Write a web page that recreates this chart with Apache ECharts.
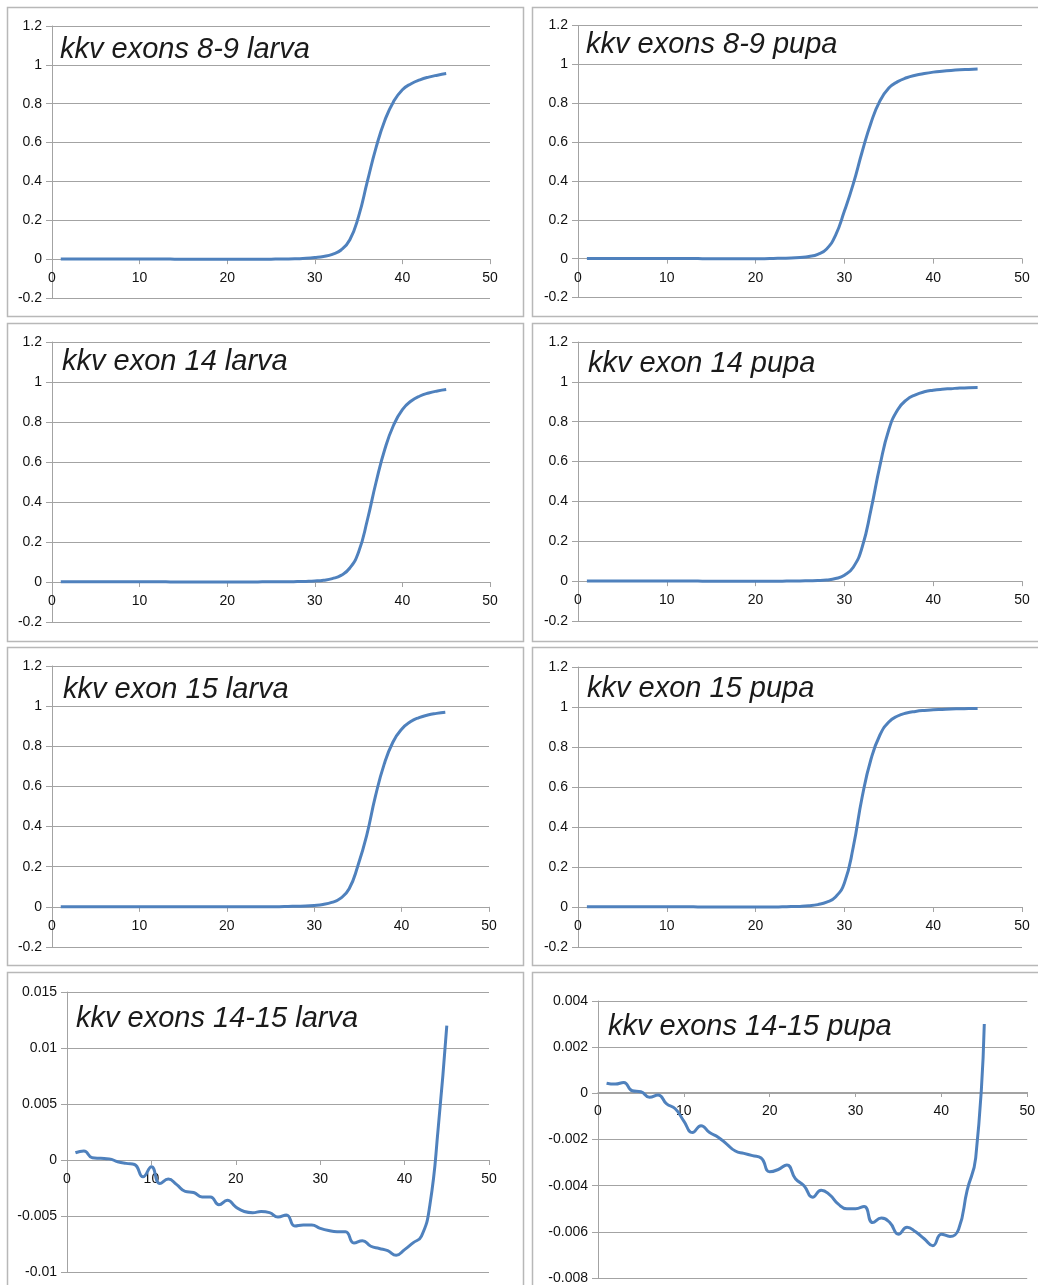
<!DOCTYPE html>
<html>
<head>
<meta charset="utf-8">
<script src="https://cdn.jsdelivr.net/npm/echarts@6/dist/echarts.min.js"></script>
<style>
html,body{margin:0;padding:0;background:#fff;}
#chart{width:1038px;height:1285px;}
</style>
</head>
<body>
<div id="chart"></div>
<script>
// Cycle numbers
var cycles = [];
for (var c = 1; c <= 45; c++) cycles.push(c);

var titles = [
  'kkv exons 8-9 larva', 'kkv exons 8-9 pupa',
  'kkv exon 14 larva', 'kkv exon 14 pupa',
  'kkv exon 15 larva', 'kkv exon 15 pupa',
  'kkv exons 14-15 larva', 'kkv exons 14-15 pupa'
];

var exons89Larva = [
  0.001,0.001,0.001,0.001,0.001,0.001,0.001,0.001,0.001,0.001,
  0.001,0.001,0.001,0.000,0.000,0.000,0.000,0.000,0.000,0.000,
  0.000,0.000,0.000,0.000,0.000,0.001,0.001,0.002,0.004,0.008,
  0.014,0.025,0.047,0.100,0.220,0.400,0.575,0.715,0.812,0.872,
  0.903,0.923,0.937,0.947,0.955
];
var exons89Pupa = [
  0.001,0.001,0.001,0.001,0.001,0.001,0.001,0.001,0.001,0.001,
  0.001,0.001,0.001,0.000,0.000,0.000,0.000,0.000,0.000,0.000,
  0.000,0.001,0.002,0.003,0.006,0.011,0.022,0.050,0.120,0.245,
  0.385,0.550,0.700,0.812,0.878,0.911,0.931,0.944,0.953,0.960,
  0.965,0.969,0.972,0.974,0.976
];
var exon14Larva = [
  0.001,0.001,0.001,0.001,0.001,0.001,0.001,0.001,0.001,0.001,
  0.001,0.001,0.001,0.000,0.000,0.000,0.000,0.000,0.000,0.000,
  0.000,0.000,0.000,0.001,0.001,0.001,0.001,0.002,0.003,0.005,
  0.009,0.017,0.033,0.070,0.150,0.310,0.500,0.665,0.785,0.862,
  0.905,0.930,0.945,0.955,0.962
];
var exon14Pupa = [
  0.001,0.001,0.001,0.001,0.001,0.001,0.001,0.001,0.001,0.001,
  0.001,0.001,0.001,0.000,0.000,0.000,0.000,0.000,0.000,0.000,
  0.000,0.000,0.000,0.001,0.001,0.002,0.003,0.006,0.013,0.030,
  0.070,0.170,0.360,0.580,0.760,0.860,0.910,0.935,0.950,0.958,
  0.963,0.966,0.969,0.971,0.972
];
var exon15Larva = [
  0.001,0.001,0.001,0.001,0.001,0.001,0.001,0.001,0.001,0.001,
  0.001,0.001,0.001,0.000,0.000,0.000,0.000,0.000,0.000,0.000,
  0.000,0.000,0.000,0.001,0.001,0.001,0.002,0.003,0.004,0.007,
  0.012,0.022,0.042,0.090,0.205,0.355,0.550,0.710,0.820,0.885,
  0.922,0.943,0.956,0.964,0.970
];
var exon15Pupa = [
  0.001,0.001,0.001,0.001,0.001,0.001,0.001,0.001,0.001,0.001,
  0.001,0.001,0.001,0.000,0.000,0.000,0.000,0.000,0.000,0.000,
  0.000,0.000,0.001,0.002,0.003,0.006,0.012,0.024,0.050,0.120,
  0.300,0.550,0.740,0.860,0.925,0.955,0.970,0.978,0.983,0.986,
  0.988,0.990,0.991,0.992,0.993
];
var exons1415Larva = [
  0.00065,0.0008,0.0002,0.00015,0.0001,-0.00015,-0.0003,-0.0004,-0.0015,-0.0006,
  -0.0021,-0.0017,-0.0022,-0.0028,-0.0029,-0.0033,-0.0033,-0.0040,-0.0036,-0.0042,
  -0.0046,-0.0047,-0.0046,-0.0047,-0.0051,-0.0049,-0.0059,-0.0058,-0.0058,-0.0061,
  -0.0063,-0.0064,-0.0064,-0.0074,-0.0072,-0.0077,-0.0079,-0.0081,-0.0085,-0.0080,
  -0.0074,-0.0068,-0.0040,0.0030,0.0120
];
var exons1415Pupa = [
  0.00044,0.0004,0.00047,0.00011,0.00007,-0.00017,-0.00007,-0.00046,-0.00067,-0.0012,
  -0.0017,-0.0014,-0.0017,-0.0019,-0.0022,-0.0025,-0.0026,-0.0027,-0.0028,-0.0034,
  -0.0033,-0.0031,-0.0037,-0.0040,-0.0045,-0.0042,-0.0044,-0.0048,-0.0050,-0.0050,
  -0.0049,-0.0056,-0.0054,-0.0056,-0.0061,-0.0058,-0.0060,-0.0063,-0.0066,-0.0061,
  -0.0062,-0.0059,-0.0042,-0.0028,0.0030
];

var seriesValues = [exons89Larva, exons89Pupa, exon14Larva, exon14Pupa,
                    exon15Larva, exon15Pupa, exons1415Larva, exons1415Pupa];

var xTicks = [0, 10, 20, 30, 40, 50];
var yRanges = [
  [-0.2, 1.2, 0.2], [-0.2, 1.2, 0.2],
  [-0.2, 1.2, 0.2], [-0.2, 1.2, 0.2],
  [-0.2, 1.2, 0.2], [-0.2, 1.2, 0.2],
  [-0.01, 0.015, 0.005], [-0.008, 0.004, 0.002]
];

// Layout (pixels)
var grids = [
  {left: 52, top: 26, width: 438, height: 272},
  {left: 578, top: 25.5, width: 444, height: 272},
  {left: 52, top: 342, width: 438, height: 280},
  {left: 578, top: 342, width: 444, height: 279},
  {left: 52, top: 666, width: 437, height: 281},
  {left: 578, top: 667, width: 444, height: 280},
  {left: 67, top: 992, width: 422, height: 280},
  {left: 598, top: 1001, width: 430, height: 279}
];
var boxes = [
  [7, 7, 516, 309], [532, 7, 520, 309],
  [7, 323, 516, 318], [532, 323, 520, 318],
  [7, 647, 516, 318], [532, 647, 520, 318],
  [7, 972, 516, 330], [532, 972, 520, 330]
];
var titlePos = [
  [60, 50], [586, 45],
  [62, 362], [588, 364],
  [63, 690], [587, 689],
  [76, 1019], [608, 1027]
];

var FONT = '"Liberation Sans", Arial, Helvetica, sans-serif';
var GRID_COLOR = '#a3a3a3';
var LINE_COLOR = '#4f81bd';

var xAxes = [], yAxes = [], series = [], graphics = [];
for (var i = 0; i < 8; i++) {
  var yr = yRanges[i];
  // place the x axis on the zero line of the value axis
  var zeroOffset = -grids[i].height * (0 - yr[0]) / (yr[1] - yr[0]);
  xAxes.push({
    type: 'value', gridIndex: i, position: 'bottom', offset: zeroOffset,
    min: xTicks[0], max: xTicks[xTicks.length - 1], interval: 10,
    axisLine: {show: true, onZero: false, lineStyle: {color: GRID_COLOR, width: 1}},
    axisTick: {show: true, length: 5, lineStyle: {color: GRID_COLOR}},
    splitLine: {show: false},
    axisLabel: {color: '#111', fontSize: 14, fontFamily: FONT, margin: 12}
  });
  yAxes.push({
    type: 'value', gridIndex: i, min: yr[0], max: yr[1], interval: yr[2],
    axisLine: {show: true, lineStyle: {color: GRID_COLOR, width: 1}},
    axisTick: {show: true, length: 6, lineStyle: {color: GRID_COLOR}},
    splitLine: {show: true, lineStyle: {color: GRID_COLOR, width: 1}},
    axisLabel: {color: '#111', fontSize: 14, fontFamily: FONT, margin: 10}
  });
  var vals = seriesValues[i];
  var pts = [];
  for (var k = 0; k < cycles.length; k++) pts.push([cycles[k], vals[k]]);
  series.push({
    type: 'line', xAxisIndex: i, yAxisIndex: i, data: pts,
    showSymbol: false, smooth: 0.5, silent: true,
    lineStyle: {color: LINE_COLOR, width: 3}
  });
  var b = boxes[i];
  graphics.push({
    type: 'rect', shape: {x: b[0] + 0.5, y: b[1] + 0.5, width: b[2], height: b[3]},
    style: {fill: null, stroke: '#b8b8b8', lineWidth: 1.5}, z: -1
  });
  graphics.push({
    type: 'text', x: titlePos[i][0], y: titlePos[i][1], z: 10,
    style: {text: titles[i], fill: '#1a1a1a', fontSize: 29, fontStyle: 'italic',
            fontFamily: FONT, textAlign: 'left', textVerticalAlign: 'middle'}
  });
}

var chart = echarts.init(document.getElementById('chart'), null, {renderer: 'canvas'});
chart.setOption({
  animation: false,
  backgroundColor: '#ffffff',
  grid: grids,
  xAxis: xAxes,
  yAxis: yAxes,
  series: series,
  graphic: graphics
});
</script>
</body>
</html>
